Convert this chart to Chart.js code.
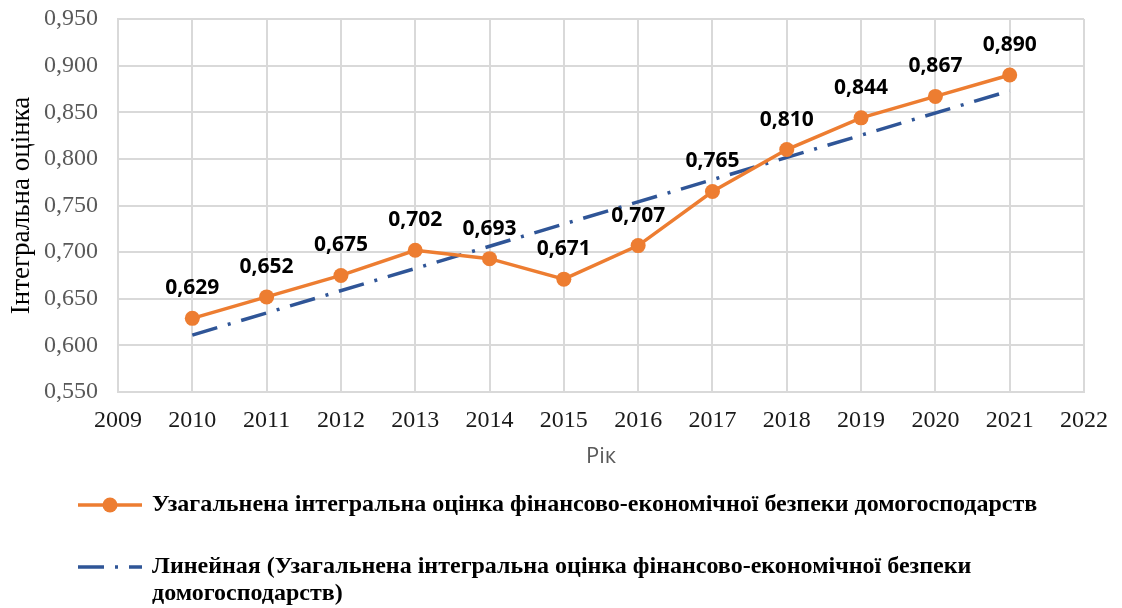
<!DOCTYPE html>
<html lang="uk">
<head>
<meta charset="utf-8">
<style>
  html, body { margin: 0; padding: 0; background: #fff; }
  #wrap { position: relative; width: 1122px; height: 608px; }
</style>
<script src="https://cdn.jsdelivr.net/npm/chart.js@4.4.1/dist/chart.umd.min.js"></script>
</head>
<body>
<div id="wrap"><canvas id="chartScore" width="1122" height="608"></canvas></div>
<script>
/* Integral estimate of household financial-economic security, 2010–2021,
   with the Excel linear trend line (endpoints). */

const YEARS  = [2010, 2011, 2012, 2013, 2014, 2015, 2016, 2017, 2018, 2019, 2020, 2021];
const SCORES = [0.629, 0.652, 0.675, 0.702, 0.693, 0.671, 0.707, 0.765, 0.810, 0.844, 0.867, 0.890];
const TREND_YEARS  = [2010, 2021];
const TREND_SCORES = [0.611, 0.873];
const SERIES_LABEL = 'Узагальнена інтегральна оцінка фінансово-економічної безпеки домогосподарств';
const TREND_LABEL  = ['Линейная (Узагальнена інтегральна оцінка фінансово-економічної безпеки', 'домогосподарств)'];

(function () {
  'use strict';

  const ORANGE = '#ED7D31';
  const BLUE   = '#2F5597';
  const GRID   = '#D9D9D9';
  const SERIF  = "'Liberation Serif', 'Times New Roman', serif";
  const SANS   = "'Open Sans', 'Noto Sans', sans-serif";
  const DASH   = [26, 11, 3, 11];

  const fmt = (v) => v.toFixed(3).replace('.', ',');

  // value labels above the orange points
  const valueLabels = {
    id: 'valueLabels',
    afterDatasetsDraw(chart) {
      const ctx = chart.ctx;
      const meta = chart.getDatasetMeta(0);
      ctx.save();
      ctx.font = "bold 21px " + SANS;
      ctx.fillStyle = '#000';
      ctx.textAlign = 'center';
      ctx.textBaseline = 'middle';
      meta.data.forEach((pt, i) => {
        ctx.fillText(fmt(SCORES[i]), pt.x, pt.y - 30);
      });
      ctx.restore();
    },
  };

  // legend below the axis, wrapping the long trend label
  const bottomLegend = {
    id: 'bottomLegend',
    afterDraw(chart) {
      const ctx = chart.ctx;
      ctx.save();
      ctx.lineWidth = 3.5;
      ctx.strokeStyle = ORANGE;
      ctx.beginPath(); ctx.moveTo(78, 505); ctx.lineTo(142, 505); ctx.stroke();
      ctx.fillStyle = ORANGE;
      ctx.beginPath(); ctx.arc(110, 505, 7.5, 0, Math.PI * 2); ctx.fill();

      ctx.strokeStyle = BLUE;
      ctx.setLineDash(DASH);
      ctx.beginPath(); ctx.moveTo(78, 567); ctx.lineTo(142, 567); ctx.stroke();
      ctx.setLineDash([]);

      ctx.font = "bold 24px " + SERIF;
      ctx.fillStyle = '#000';
      ctx.textAlign = 'left';
      ctx.textBaseline = 'middle';
      ctx.fillText(SERIES_LABEL, 152, 505);
      ctx.fillText(TREND_LABEL[0], 152, 567);
      ctx.fillText(TREND_LABEL[1], 152, 594);
      ctx.restore();
    },
  };

  new Chart(document.getElementById('chartScore'), {
    type: 'line',
    data: {
      datasets: [
        {
          label: SERIES_LABEL,
          data: YEARS.map((y, i) => ({ x: y, y: SCORES[i] })),
          borderColor: ORANGE,
          backgroundColor: ORANGE,
          borderWidth: 3.5,
          pointRadius: 7.5,
          pointHoverRadius: 7.5,
          pointBorderWidth: 0,
          tension: 0,
        },
        {
          label: TREND_LABEL.join(' '),
          data: TREND_YEARS.map((y, i) => ({ x: y, y: TREND_SCORES[i] })),
          borderColor: BLUE,
          borderWidth: 3.5,
          borderDash: DASH,
          pointRadius: 0,
          tension: 0,
        },
      ],
    },
    options: {
      responsive: false,
      animation: false,
      layout: { padding: { left: 6, right: 37, top: 19, bottom: 138 } },
      plugins: {
        legend: { display: false },
        tooltip: { enabled: false },
      },
      scales: {
        x: {
          type: 'linear',
          min: 2009,
          max: 2022,
          ticks: {
            stepSize: 1,
            padding: 14,
            color: '#1a1a1a',
            font: { family: SERIF, size: 24 },
            callback: (v) => String(v),
          },
          grid: { color: GRID, lineWidth: 2, drawTicks: false },
          border: { color: GRID, width: 2 },
          title: {
            display: true,
            text: 'Рік',
            color: '#595959',
            font: { family: SANS, size: 22 },
            padding: { top: 4, bottom: 0 },
          },
          afterFit: (s) => { s.height = 78; },
        },
        y: {
          min: 0.55,
          max: 0.95,
          ticks: {
            stepSize: 0.05,
            padding: 20,
            color: '#595959',
            font: { family: SERIF, size: 24 },
            callback: (v) => fmt(v),
          },
          grid: { color: GRID, lineWidth: 2, drawTicks: false },
          border: { color: GRID, width: 2 },
          title: {
            display: true,
            text: 'Інтегральна оцінка',
            color: '#000',
            font: { family: SERIF, size: 27 },
            padding: { top: 0, bottom: 0 },
          },
          afterFit: (s) => { s.width = 112; s.paddingTop = 0; s.paddingBottom = 0; },
        },
      },
    },
    plugins: [valueLabels, bottomLegend],
  });
})();
</script>
</body>
</html>
